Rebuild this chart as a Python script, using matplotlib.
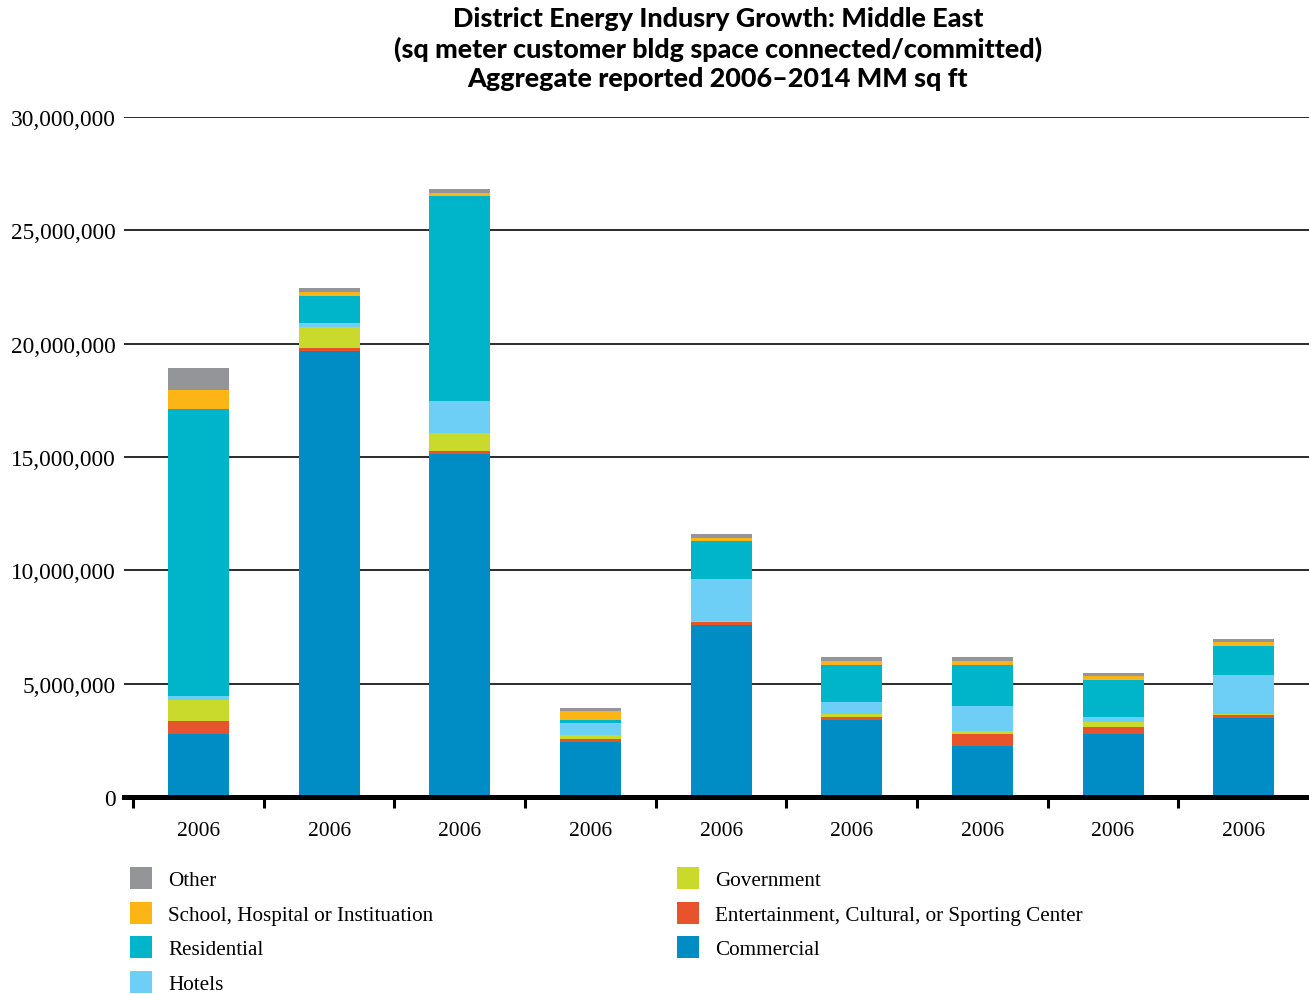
import matplotlib
matplotlib.use("Agg")
import matplotlib.pyplot as plt
from matplotlib.patches import Rectangle
from matplotlib.ticker import FuncFormatter, FixedLocator
import numpy as np

categories = ["2006"] * 9

# values in millions of sq units (stack order bottom -> top)
commercial    = [2.78, 19.67, 15.12, 2.43, 7.59, 3.40, 2.25, 2.78, 3.48]
entertainment = [0.57, 0.14, 0.14, 0.13, 0.12, 0.13, 0.53, 0.31, 0.14]
government    = [0.93, 0.92, 0.80, 0.17, 0.07, 0.12, 0.15, 0.22, 0.04]
hotels        = [0.18, 0.19, 1.41, 0.53, 1.84, 0.54, 1.08, 0.22, 1.72]
residential   = [12.65, 1.18, 9.04, 0.14, 1.67, 1.63, 1.81, 1.63, 1.28]
school        = [0.84, 0.18, 0.13, 0.39, 0.13, 0.18, 0.18, 0.18, 0.18]
other         = [0.97, 0.17, 0.18, 0.14, 0.18, 0.18, 0.18, 0.13, 0.13]

series = [
    ("Commercial", commercial, "#008CC4"),
    ("Entertainment, Cultural, or Sporting Center", entertainment, "#E8532C"),
    ("Government", government, "#C9DA2C"),
    ("Hotels", hotels, "#6DCFF6"),
    ("Residential", residential, "#00B5CA"),
    ("School, Hospital or Instituation", school, "#FDB515"),
    ("Other", other, "#939598"),
]

legend_order = ["Other", "School, Hospital or Instituation", "Residential", "Hotels",
                "Government", "Entertainment, Cultural, or Sporting Center", "Commercial"]

title = ("District Energy Indusry Growth: Middle East\n"
         "(sq meter customer bldg space connected/committed)\n"
         "Aggregate reported 2006\u20132014 MM sq ft")

W, H = 1309, 995
fig = plt.figure(figsize=(W / 100, H / 100), dpi=100)
ax = fig.add_axes([124 / W, 1 - 798 / H, (1309 - 124) / W, (798 - 118) / H])

serif = ["Liberation Serif", "DejaVu Serif"]

x = np.arange(len(categories))
bottom = np.zeros(len(categories))
for name, vals, col in series:
    v = np.array(vals) * 1e6
    ax.bar(x, v, width=0.467, bottom=bottom, color=col, zorder=2, linewidth=0)
    bottom += v

ax.set_xlim(-0.57, 8.5)
ax.set_ylim(0, 30e6)
ax.set_yticks(np.arange(0, 30e6 + 1, 5e6))
ax.yaxis.set_major_formatter(FuncFormatter(lambda v, p: f"{int(v):,}"))
ax.grid(axis="y", color="#1a1a1a", linewidth=1.3, zorder=0)
ax.tick_params(axis="y", length=0, pad=6, labelsize=16.8)
for lab in ax.get_yticklabels():
    lab.set_fontfamily(serif)

ax.set_xticks(x)
ax.set_xticklabels(categories, fontfamily=serif, fontsize=15.5)
ax.tick_params(axis="x", which="major", length=0, pad=17)
ax.xaxis.set_minor_locator(FixedLocator(x - 0.5))
ax.tick_params(axis="x", which="minor", length=8, width=2.2, direction="out", color="black")

for s in ["top", "right", "left"]:
    ax.spines[s].set_visible(False)
ax.spines["bottom"].set_linewidth(3.6)
ax.spines["bottom"].set_color("black")
ax.spines["bottom"].set_zorder(5)

fig.text(718 / W, 1 - 7 / H, title, ha="center", va="top", fontsize=19.4,
         fontfamily="Lato", fontweight="black", linespacing=1.25)

# legend
colmap = {n: c for n, _, c in series}
col_x = [130, 677]
row_y = [879, 914, 948, 983]
for i, name in enumerate(legend_order):
    c = 0 if i < 4 else 1
    r = i if i < 4 else i - 4
    x0, yc = col_x[c], row_y[r]
    fig.add_artist(Rectangle((x0 / W, 1 - (yc + 11) / H), 22 / W, 22 / H,
                             transform=fig.transFigure, color=colmap[name], lw=0))
    fig.text((x0 + 38) / W, 1 - yc / H, name, ha="left", va="center_baseline",
             fontsize=15.2, fontfamily=serif)

fig.savefig("out.png", dpi=100)
